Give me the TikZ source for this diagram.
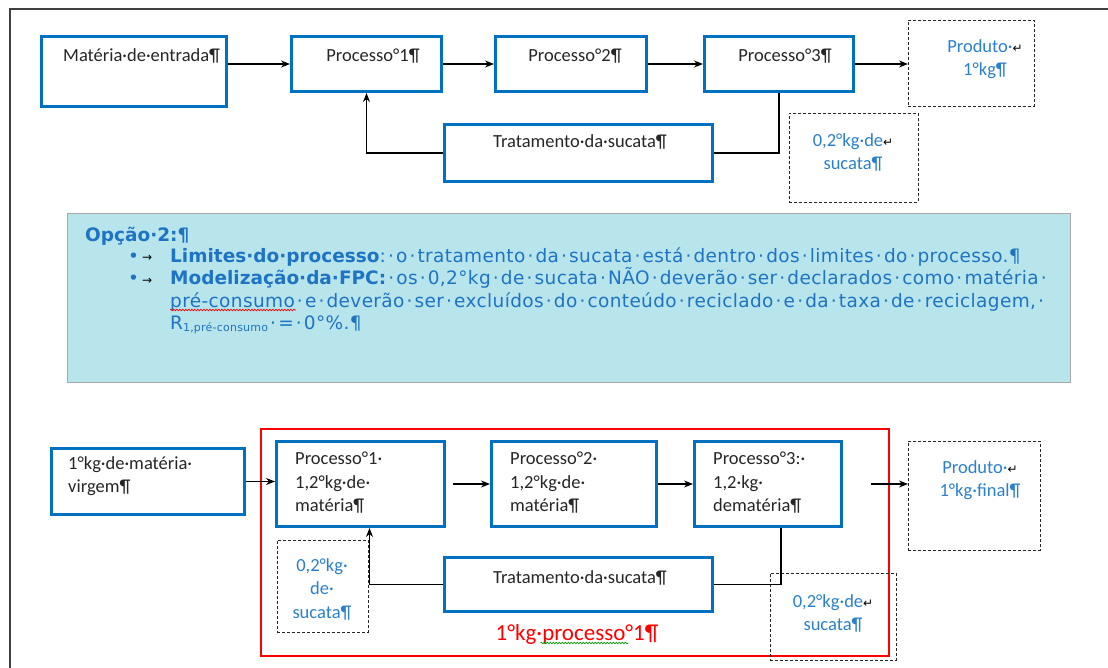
\documentclass[tikz,border=0pt]{standalone}
\usepackage{fontspec}
\setmainfont{Carlito}
\newfontfamily\verd[LetterSpace=2]{DejaVu Sans}
\newfontfamily\verdb{DejaVu Sans}
\newfontfamily\dvs{DejaVu Sans}
\usetikzlibrary{arrows.meta,decorations.pathmorphing}
\definecolor{boxblue}{HTML}{0070C0}
\definecolor{txtblue}{HTML}{2A80CC}
\definecolor{paneltxt}{HTML}{1E74C4}
\definecolor{panelfill}{HTML}{B8E4EC}
\definecolor{panelline}{HTML}{A8A8A8}
% Word's line-break mark
\newcommand{\ret}{{\dvs\color{black}\fontsize{12}{12}\selectfont ↵}}
% visible space mark in the panel text
\newcommand{\vsp}{\hbox to 0.55em{\hss·\hss}}
% bold run in the panel text
\newcommand{\pb}[1]{{\verdb\bfseries #1}}
\tikzset{
  pbox/.style={draw=boxblue, line width=3pt, fill=white, anchor=north west, inner sep=0pt},
  dbox/.style={draw=black!85, dash pattern=on 3pt off 2pt, line width=0.9pt, anchor=north west, inner sep=0pt},
  txt/.style={font=\fontsize{18.5}{23.5}\selectfont, inner sep=0pt, text=black!85},
  btxt/.style={txt, text=txtblue},
  ptxt/.style={font=\verd\fontsize{18.5}{22}\selectfont, inner sep=0pt, text=paneltxt, anchor=base west},
  flow/.style={line width=1.2pt, -{Stealth[length=9pt,width=7pt]}},
  link/.style={line width=1.2pt},
  wavy/.style={decorate, decoration={snake, amplitude=0.8pt, segment length=3pt}, line width=0.7pt},
}
\begin{document}
\begin{tikzpicture}[x=1pt,y=-1pt]
\useasboundingbox (0,0) rectangle (1108,668);
% page frame
\draw[line width=1.3pt, black!75] (10,668) -- (10,9) -- (1108,9);

% ---------- upper chain ----------
\node[pbox, minimum width=185pt, minimum height=70pt] (mat) at (40,35) {};
\node[txt, anchor=base west] (matT) at (63,62) {Matéria·de·entrada¶};
\node[pbox, minimum width=150pt, minimum height=55pt] (p1) at (290,35) {};
\node[txt, anchor=base] (p1T) at (373,62) {Processo°1¶};
\node[pbox, minimum width=151pt, minimum height=55pt] (p2) at (494,35) {};
\node[txt, anchor=base] (p2T) at (575,62) {Processo°2¶};
\node[pbox, minimum width=149pt, minimum height=55pt] (p3) at (703,35) {};
\node[txt, anchor=base] (p3T) at (785,62) {Processo°3¶};
\node[dbox, minimum width=126pt, minimum height=86pt] (prod) at (908,20) {};
\node[btxt, anchor=north, align=center] (prodT) at (985,39) {Produto·\ret\\1°kg¶};
\node[pbox, minimum width=268pt, minimum height=57pt] (trat) at (443,123) {};
\node[txt, anchor=base] (tratT) at (580,148) {Tratamento·da·sucata¶};
\node[dbox, minimum width=129pt, minimum height=89pt] (scrap) at (789,113) {};
\node[btxt, anchor=north, align=center] (scrapT) at (853,133) {0,2°kg·de\ret\\sucata¶};

\draw[flow] (mat.east |- p1.west) -- (p1.west);
\draw[flow] (p1.east) -- (p2.west);
\draw[flow] (p2.east) -- (p3.west);
\draw[flow] (p3.east) -- (prod.west |- p3.east);
\draw[flow] (trat.west) -| (p1.south);
\draw[link] (p3.south) |- (trat.east);

% ---------- option panel ----------
\node[draw=panelline, fill=panelfill, line width=1pt, minimum width=1003pt, minimum height=169pt, anchor=north west, inner sep=0pt] (panel) at (67,213) {};
\node[ptxt] (opt) at (85,242) {\pb{Opção·2:¶}};
\node[ptxt] (bul1) at (128,263) {•};
\node[ptxt, text=black, font=\dvs\fontsize{12}{12}\selectfont] (tab1) at (142,262) {→};
\node[ptxt] (l1) at (170,263) {\pb{Limites·do·processo}:\vsp o\vsp tratamento\vsp da\vsp sucata\vsp está\vsp dentro\vsp dos\vsp limites\vsp do\vsp processo.¶};
\node[ptxt] (bul2) at (128,285) {•};
\node[ptxt, text=black, font=\dvs\fontsize{12}{12}\selectfont] (tab2) at (142,284) {→};
\node[ptxt] (l2) at (170,285) {\pb{Modelização·da·FPC:}\vsp os\vsp 0,2°kg\vsp de\vsp sucata\vsp NÃO\vsp deverão\vsp ser\vsp declarados\vsp como\vsp matéria\vsp};
\node[ptxt] (l3) at (170,307) {pré-consumo\vsp e\vsp deverão\vsp ser\vsp excluídos\vsp do\vsp conteúdo\vsp reciclado\vsp e\vsp da\vsp taxa\vsp de\vsp reciclagem,\vsp};
\node[ptxt] (l4) at (170,329) {R\raisebox{-2.5pt}{\fontsize{11}{11}\selectfont 1,pré-consumo}\vsp=\vsp 0°\%.¶};
\draw[wavy, red] ([yshift=-3pt]l3.base west) -- ++(126,0);

% ---------- lower chain ----------
\node[draw=red, line width=1.8pt, minimum width=628pt, minimum height=227pt, anchor=north west, inner sep=0pt] (bound) at (260,428) {};
\node[pbox, minimum width=193pt, minimum height=66pt] (virg) at (50,447) {};
\node[txt, anchor=north west, align=left] (virgT) at (68,456) {1°kg·de·matéria·\\virgem¶};
\node[pbox, minimum width=168pt, minimum height=85pt] (bp1) at (275,440) {};
\node[txt, anchor=north west, align=left] (bp1T) at (295,452) {Processo°1·\\1,2°kg·de·\\matéria¶};
\node[pbox, minimum width=165pt, minimum height=85pt] (bp2) at (490,440) {};
\node[txt, anchor=north west, align=left] (bp2T) at (510,452) {Processo°2·\\1,2°kg·de·\\matéria¶};
\node[pbox, minimum width=147pt, minimum height=85pt] (bp3) at (693,440) {};
\node[txt, anchor=north west, align=left] (bp3T) at (713,452) {Processo°3:·\\1,2·kg·\\dematéria¶};
\node[dbox, minimum width=132pt, minimum height=109pt] (bprod) at (908,441) {};
\node[btxt, anchor=north, align=center] (bprodT) at (980,460) {Produto·\ret\\1°kg·final¶};
\node[pbox, minimum width=268pt, minimum height=54pt] (btrat) at (443,556) {};
\node[txt, anchor=base] (btratT) at (580,583) {Tratamento·da·sucata¶};
\node[dbox, minimum width=91pt, minimum height=92pt] (bscrapL) at (277,540) {};
\node[btxt, anchor=north, align=center] (bscrapLT) at (322,558) {0,2°kg·\\de·\\sucata¶};
\node[dbox, minimum width=126pt, minimum height=87pt] (bscrapR) at (770,573) {};
\node[btxt, anchor=north, align=center] (bscrapRT) at (833,594) {0,2°kg·de\ret\\sucata¶};
\node[txt, text=red, font=\fontsize{23}{26}\selectfont, anchor=base] (boundT) at (577,640) {1°kg·processo°1¶};
\draw[wavy, green!60!black] ([xshift=45pt,yshift=-3pt]boundT.base west) -- ++(88,0);

\draw[flow] (virg.east) -- (virg.east -| bp1.west);
\draw[flow] ([xshift=7pt]bp1.east) -- (bp2.west);
\draw[flow] (bp2.east) -- (bp3.west);
\draw[flow] ([xshift=28pt]bp3.east) -- (bprod.west |- bp3.east);
\draw[flow] (btrat.west) -| ([xshift=9pt]bp1.south);
\draw[link] ([xshift=13pt]bp3.south) |- (btrat.east);
\end{tikzpicture}
\end{document}
